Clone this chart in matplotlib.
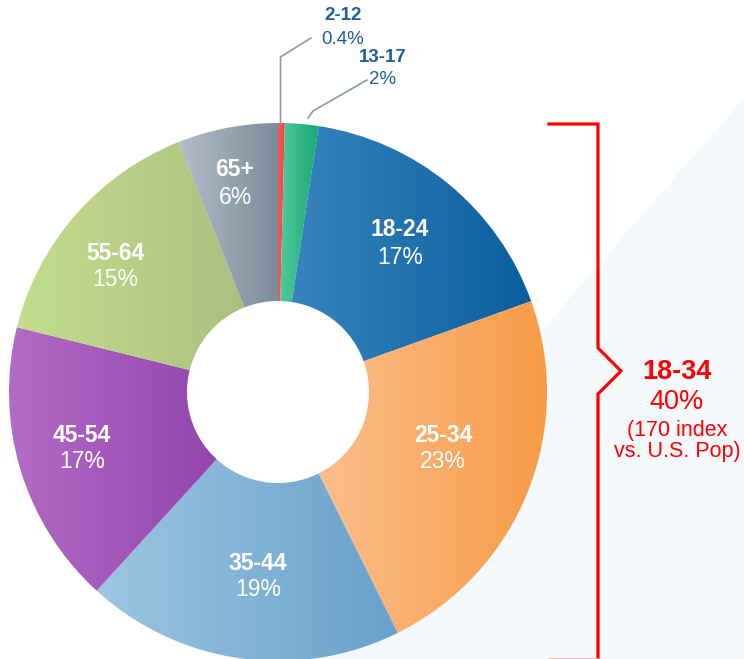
import numpy as np
import matplotlib.pyplot as plt
from matplotlib.colors import LinearSegmentedColormap

plt.rcParams['font.family'] = ['Liberation Sans', 'DejaVu Sans']

# data
ages = ['2-12', '13-17', '18-24', '25-34', '35-44', '45-54', '55-64', '65+']
shares = [0.4, 2, 17, 23, 19, 17, 15, 6]
share_labels = ['0.4%', '2%', '17%', '23%', '19%', '17%', '15%', '6%']
grad_left = ['#f25a5a', '#55cb9e', '#3a86c0', '#fbc598', '#9dc6e0', '#b36cc6', '#c3de8e', '#b4bec7']
grad_right = ['#ef4444', '#16a873', '#0a5e9c', '#f79a45', '#67a1cb', '#8a3aa6', '#a8bb7d', '#7b8c9a']

group_label = '18-34'
group_share = '40%'
group_note = '(170 index\nvs. U.S. Pop)'

W, H = 744, 659


def Y(y):
    # pixel row (top down) -> data y
    return H - y


fig = plt.figure(figsize=(W / 100, H / 100), dpi=100)
ax = fig.add_axes([0, 0, 1, 1])

# light background triangle
ax.fill([744, 255, 744], [Y(98), Y(659), Y(659)], color='#f4f9fc', zorder=0, lw=0)

cx, cy, R, r_in = 278, Y(392), 269, 91
wedges, _ = ax.pie(shares, startangle=90, counterclock=False, center=(cx, cy), radius=R,
                   wedgeprops=dict(width=R - r_in, linewidth=0))

# horizontal gradient inside each wedge
for w, c1, c2 in zip(wedges, grad_left, grad_right):
    w.set_facecolor('none')
    w.set_edgecolor('none')
    verts = w.get_path().vertices
    x0, x1 = verts[:, 0].min(), verts[:, 0].max()
    y0, y1 = verts[:, 1].min(), verts[:, 1].max()
    cmap = LinearSegmentedColormap.from_list('g', [c1, c2])
    grad = np.linspace(0, 1, 256).reshape(1, -1)
    im = ax.imshow(grad, cmap=cmap, extent=(x0, x1, y0, y1), aspect='auto', zorder=1,
                   interpolation='bilinear')
    im.set_clip_path(w)

# labels inside the slices
inner_pos = {'18-24': (400, 243), '25-34': (443, 448), '35-44': (258, 576),
             '45-54': (82, 448), '55-64': (115, 266), '65+': (235, 183)}
for age, lab in zip(ages, share_labels):
    if age not in inner_pos:
        continue
    x, y = inner_pos[age]
    ax.text(x, Y(y - 13), age, color='white', fontsize=16.5, fontweight='bold',
            ha='center', va='center', zorder=5)
    ax.text(x, Y(y + 14), lab, color='white', fontsize=16.5,
            ha='center', va='center', zorder=5)

# small slices with leader lines
lead = '#8c9aa6'
ax.plot([280.5, 280.5, 311], [Y(124), Y(57), Y(38)], color=lead, lw=1.2, zorder=3)
ax.plot([308, 313, 367], [Y(118), Y(111), Y(80)], color=lead, lw=1.2, zorder=3)
blue = '#1f5f99'
ax.text(343, Y(16), ages[0], color=blue, fontsize=13.5, fontweight='bold', ha='center', va='center')
ax.text(343, Y(39), share_labels[0], color=blue, fontsize=13.5, ha='center', va='center')
ax.text(383, Y(58), ages[1], color=blue, fontsize=13.5, fontweight='bold', ha='center', va='center')
ax.text(383, Y(80), share_labels[1], color=blue, fontsize=13.5, ha='center', va='center')

# red bracket for 18-34
red = '#ff0000'
ax.plot([549, 598, 598, 621, 598, 598], [Y(124), Y(124), Y(348), Y(371), Y(394), Y(662)],
        color=red, lw=2.3, solid_joinstyle='miter', zorder=4)
ax.plot([549, 598], [Y(658.5), Y(658.5)], color='#ffaaaa', lw=1.2, zorder=4)
ax.text(677, Y(372), group_label, color=red, fontsize=19.5, fontweight='bold', ha='center', va='center')
ax.text(677, Y(402), group_share, color=red, fontsize=19.5, ha='center', va='center')
ax.text(677, Y(441), group_note, color=red, fontsize=15.5, ha='center', va='center',
        linespacing=1.0)

ax.set_xlim(0, W)
ax.set_ylim(0, H)
ax.set_aspect('auto')
ax.axis('off')

fig.savefig('out.png', dpi=100, facecolor='white')
